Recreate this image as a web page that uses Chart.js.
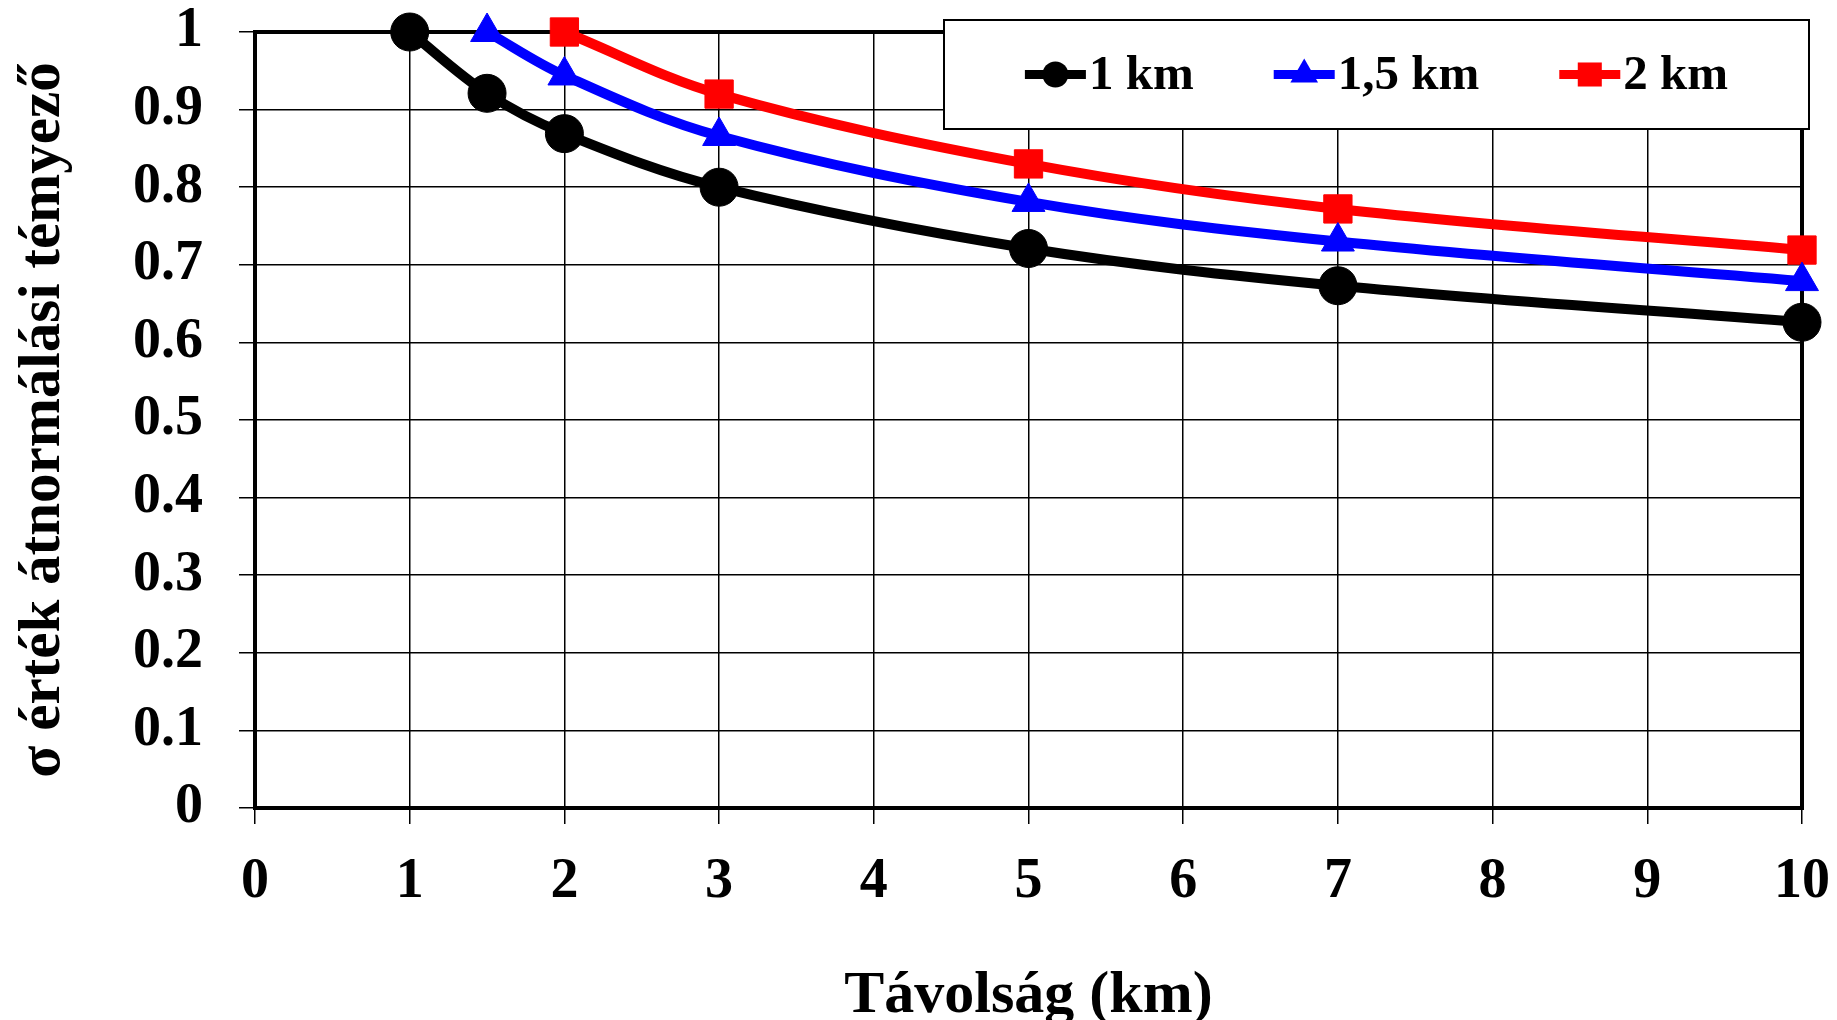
<!DOCTYPE html>
<html>
<head>
<meta charset="utf-8">
<title>σ érték átnormálási témyező</title>
<script src="https://cdn.jsdelivr.net/npm/chart.js@4.4.1/dist/chart.umd.min.js"></script>
<style>
  html, body { margin: 0; padding: 0; background: #fff; }
</style>
</head>
<body>
<canvas id="sigmaChart" width="1837" height="1020"></canvas>
<script>
// values (distance in km -> sigma factor)
const dist1 = [1, 1.5, 2, 3, 5, 7, 10];
const sigma1 = [1.0, 0.921, 0.869, 0.8, 0.721, 0.673, 0.626];

const dist15 = [1.5, 2, 3, 5, 7, 10];
const sigma15 = [1.0, 0.944, 0.866, 0.781, 0.73, 0.679];

const dist2 = [2, 3, 5, 7, 10];
const sigma2 = [1.0, 0.92, 0.83, 0.772, 0.719];

const seriesLabels = ["1 km", "1,5 km", "2 km"];
const xTickLabels = ["0", "1", "2", "3", "4", "5", "6", "7", "8", "9", "10"];
const yTickLabels = ["0", "0.1", "0.2", "0.3", "0.4", "0.5", "0.6", "0.7", "0.8", "0.9", "1"];

const SERIF = "'Liberation Serif', 'Times New Roman', serif";

function toPoints(xs, ys) {
  return xs.map((x, i) => ({ x: x, y: ys[i] }));
}

// thick frame round the plot area, under the lines
const plotFrame = {
  id: "plotFrame",
  beforeDatasetsDraw(chart) {
    const { ctx, chartArea } = chart;
    ctx.save();
    ctx.strokeStyle = "#000";
    ctx.lineWidth = 4;
    ctx.strokeRect(chartArea.left, chartArea.top, chartArea.right - chartArea.left, chartArea.bottom - chartArea.top);
    ctx.restore();
  },
};

// boxed legend with line + marker samples, sitting over the top right of the plot
const lineLegend = {
  id: "lineLegend",
  afterDraw(chart) {
    const { ctx, chartArea } = chart;
    const boxRight = chartArea.right + 7;
    const boxTop = chartArea.top - 12;
    const boxW = 865;
    const boxH = 109;
    const boxLeft = boxRight - boxW;

    ctx.save();
    ctx.fillStyle = "#fff";
    ctx.fillRect(boxLeft, boxTop, boxW, boxH);
    ctx.strokeStyle = "#000";
    ctx.lineWidth = 2;
    ctx.strokeRect(boxLeft, boxTop, boxW, boxH);

    ctx.font = "bold 49px " + SERIF;
    ctx.textBaseline = "middle";
    ctx.textAlign = "left";

    const sampleW = 61;
    const gap = 3;
    const itemGap = 80;
    const items = chart.data.datasets.map((ds) => ({
      ds: ds,
      w: sampleW + gap + ctx.measureText(ds.label).width,
    }));
    const total = items.reduce((s, it) => s + it.w, 0) + itemGap * (items.length - 1);
    let x = boxLeft + (boxW - total) / 2;
    const cy = boxTop + boxH / 2;

    items.forEach((it) => {
      const ds = it.ds;
      ctx.strokeStyle = ds.borderColor;
      ctx.lineWidth = 9;
      ctx.beginPath();
      ctx.moveTo(x, cy);
      ctx.lineTo(x + sampleW, cy);
      ctx.stroke();

      ctx.fillStyle = ds.backgroundColor;
      ctx.strokeStyle = ds.borderColor;
      Chart.helpers.drawPoint(ctx, {
        pointStyle: ds.pointStyle,
        radius: ds.legendRadius,
        rotation: 0,
        borderWidth: 0,
      }, x + sampleW / 2, cy);

      ctx.fillStyle = "#000";
      ctx.fillText(ds.label, x + sampleW + gap, cy + 2);
      x += it.w + itemGap;
    });
    ctx.restore();
  },
};

const commonLine = {
  borderWidth: 10,
  tension: 0.35,
  fill: false,
  clip: false,
  pointBorderWidth: 1,
};

new Chart(document.getElementById("sigmaChart"), {
  type: "line",
  data: {
    datasets: [
      Object.assign({}, commonLine, {
        label: seriesLabels[0],
        data: toPoints(dist1, sigma1),
        borderColor: "#000000",
        backgroundColor: "#000000",
        pointStyle: "circle",
        pointRadius: 19,
        legendRadius: 13,
      }),
      Object.assign({}, commonLine, {
        label: seriesLabels[1],
        data: toPoints(dist15, sigma15),
        borderColor: "#0000ff",
        backgroundColor: "#0000ff",
        pointStyle: "triangle",
        pointRadius: 19,
        legendRadius: 16,
      }),
      Object.assign({}, commonLine, {
        label: seriesLabels[2],
        data: toPoints(dist2, sigma2),
        borderColor: "#ff0000",
        backgroundColor: "#ff0000",
        pointStyle: "rect",
        pointRadius: 20,
        legendRadius: 17,
      }),
    ],
  },
  options: {
    responsive: false,
    animation: false,
    layout: { autoPadding: false, padding: { left: 0, right: 35, top: 32, bottom: -12 } },
    plugins: {
      legend: { display: false },
      tooltip: { enabled: false },
    },
    scales: {
      x: {
        type: "linear",
        min: 0,
        max: 10,
        afterFit: (s) => {
          s.height = 224;
          s.paddingLeft = 0;
          s.paddingRight = 0;
        },
        ticks: {
          stepSize: 1,
          padding: 25,
          maxRotation: 0,
          color: "#000",
          font: { family: SERIF, size: 56, weight: "bold" },
          callback: (v) => xTickLabels[v] ?? "",
        },
        grid: { color: "#000", lineWidth: 1.5, tickLength: 16 },
        border: { color: "#000", width: 4 },
        title: {
          display: true,
          text: "Távolság (km)",
          color: "#000",
          font: { family: SERIF, size: 60, weight: "bold" },
          padding: { top: 0, bottom: 0 },
        },
      },
      y: {
        min: 0,
        max: 1,
        afterFit: (s) => {
          s.width = 255;
          s.paddingTop = 0;
          s.paddingBottom = 0;
        },
        ticks: {
          stepSize: 0.1,
          padding: 36,
          color: "#000",
          font: { family: SERIF, size: 56, weight: "bold" },
          callback: (v, i) => yTickLabels[i] ?? "",
        },
        grid: { color: "#000", lineWidth: 1.5, tickLength: 16 },
        border: { color: "#000", width: 4 },
        title: {
          display: true,
          text: "σ érték átnormálási témyező",
          color: "#000",
          font: { family: SERIF, size: 59, weight: "bold" },
          padding: { top: 8, bottom: 19 },
        },
      },
    },
  },
  plugins: [plotFrame, lineLegend],
});
</script>
</body>
</html>
